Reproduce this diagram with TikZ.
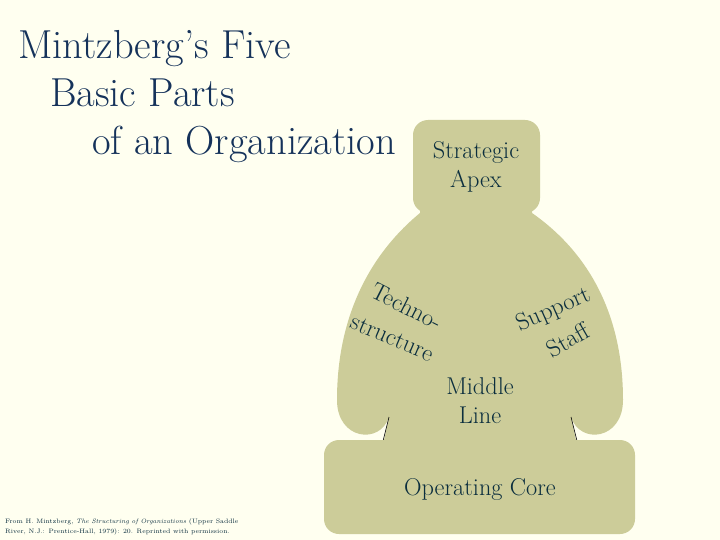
\documentclass[tikz,border=0pt]{standalone}
\usepackage{fontspec}
\usetikzlibrary{positioning}

\definecolor{pagecream}{HTML}{FFFFF0}
\definecolor{partfill}{HTML}{CCCC99}
\definecolor{titleblue}{HTML}{15325A}
\definecolor{labelteal}{HTML}{0B2E3E}

\begin{document}
\begin{tikzpicture}[
    x=1pt, y=-1pt,
    partbox/.style={fill=partfill, rounded corners=15pt},
    partlabel/.style={text=labelteal, align=center, inner sep=0pt, font=\fontsize{24.3}{29}\selectfont},
    titleline/.style={text=titleblue, anchor=base west, inner sep=0pt, font=\fontsize{40.5}{47}\selectfont},
    edgeline/.style={draw=black, line width=0.6pt}
]

\fill[pagecream] (0,0) rectangle (720,540);
\useasboundingbox (0,0) rectangle (720,540);

% body: middle line with technostructure and support staff
\fill[partfill] (420,200) -- (420,213)
    .. controls (375,250) and (337,310) .. (337,400)
    .. controls (337,440) and (380,445) .. (389,417)
    -- (383,445) -- (577,445) -- (571,417)
    .. controls (580,445) and (623,440) .. (623,400)
    .. controls (623,310) and (585,250) .. (532,213)
    -- (532,200) -- cycle;
\coordinate (mlefttop) at (389,417);
\coordinate (mleftbot) at (383,441);
\coordinate (mrighttop) at (571,417);
\coordinate (mrightbot) at (577,441);
\draw[edgeline] (mlefttop) -- (mleftbot);
\draw[edgeline] (mrighttop) -- (mrightbot);

\fill[partbox] (413,120) rectangle (540,213);
\fill[partbox] (324,440) rectangle (635,534);

\node[titleline] (title1) at (18,59) {Mintzberg’s Five};
\node[titleline] (title2) at (50,107) {Basic Parts};
\node[titleline] (title3) at (92,155) {of an Organization};

\node[partlabel] (apex) at (476,167) {Strategic\\Apex};
\node[partlabel] (middle) at (480,401) {Middle\\Line};
\node[partlabel] (core) at (480,489) {Operating Core};
\node[partlabel, rotate=-27] (techno) at (407,306) {Techno-};
\node[partlabel, rotate=-23] (structure) at (392,338) {structure};
\node[partlabel, rotate=24] (support) at (554,310) {Support};
\node[partlabel, rotate=30] (staff) at (568,340) {Staff};

\node[text=labelteal, anchor=north west, align=left, inner sep=0pt,
      font=\fontsize{6.4}{10}\selectfont] (source) at (5,518)
    {From H. Mintzberg, \textit{The Structuring of Organizations} (Upper Saddle\\
     River, N.J.: Prentice-Hall, 1979): 20. Reprinted with permission.};

\end{tikzpicture}
\end{document}
